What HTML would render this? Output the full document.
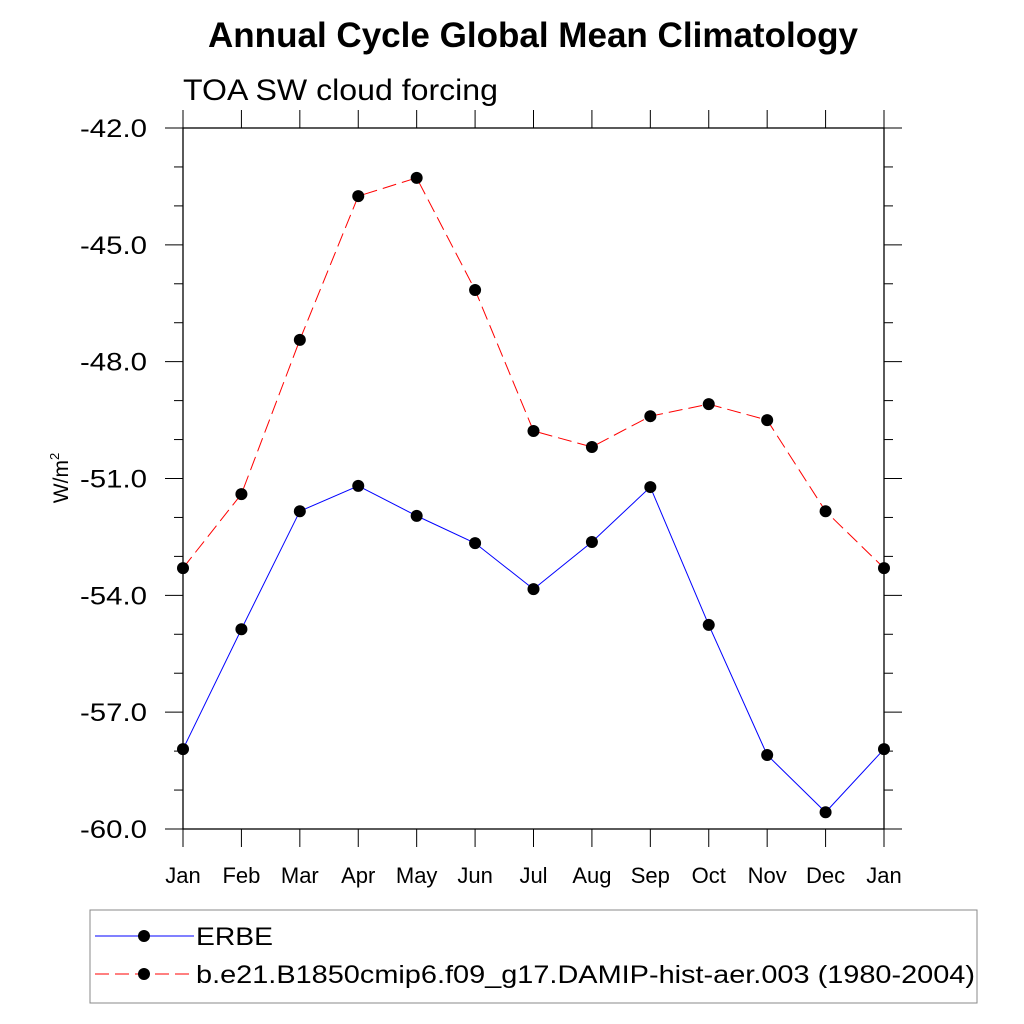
<!DOCTYPE html>
<html><head><meta charset="utf-8"><style>
body{margin:0;background:#fff;}
svg{display:block;font-family:"Liberation Sans",sans-serif;}
</style></head><body>
<svg id="chart" width="1024" height="1024">
<text x="208" y="47" textLength="650" lengthAdjust="spacingAndGlyphs" font-size="35" font-weight="bold">Annual Cycle Global Mean Climatology</text>
<text x="183" y="100" textLength="315" lengthAdjust="spacingAndGlyphs" font-size="30">TOA SW cloud forcing</text>
<text transform="translate(68,478) rotate(-90)" text-anchor="middle" font-size="21">W/m<tspan dy="-9" font-size="13">2</tspan></text>
<g id="axes"></g>
<g id="series"></g>
<rect x="90" y="910" width="887" height="93" fill="none" stroke="#888" stroke-width="1"/>
<g>
<line x1="95" y1="936" x2="194" y2="936" stroke="#0000ff" stroke-width="1"/>
<circle cx="144" cy="936" r="6" fill="#000"/>
<text x="196" y="945" textLength="77" lengthAdjust="spacingAndGlyphs" font-size="25">ERBE</text>
</g>
<g>
<line x1="95" y1="974" x2="194" y2="974" stroke="#ff0000" stroke-width="1" stroke-dasharray="14,6"/>
<circle cx="144" cy="974" r="6" fill="#000"/>
<text x="196" y="983" textLength="779" lengthAdjust="spacingAndGlyphs" font-size="25">b.e21.B1850cmip6.f09_g17.DAMIP-hist-aer.003 (1980-2004)</text>
</g>
</svg>
<script>
const months = ["Jan","Feb","Mar","Apr","May","Jun","Jul","Aug","Sep","Oct","Nov","Dec","Jan"];
const erbe = [-57.95,-54.87,-51.84,-51.19,-51.96,-52.66,-53.84,-52.63,-51.22,-54.76,-58.10,-59.57,-57.95];
const model = [-53.30,-51.40,-47.44,-43.75,-43.28,-46.16,-49.78,-50.19,-49.40,-49.09,-49.50,-51.84,-53.30];
const yTicks = [-42,-45,-48,-51,-54,-57,-60];
const yTickLabels = ["-42.0","-45.0","-48.0","-51.0","-54.0","-57.0","-60.0"];

const L=183,R=884,T=128,B=829,yMax=-42,yMin=-60;
const xs=i=>L+(R-L)*i/(months.length-1);
const ys=v=>T+(yMax-v)/(yMax-yMin)*(B-T);
const NS="http://www.w3.org/2000/svg";
function mk(tag,attrs,parent){const e=document.createElementNS(NS,tag);for(const k in attrs)e.setAttribute(k,attrs[k]);parent.appendChild(e);return e;}
const ax=document.getElementById('axes');
const frame=mk('rect',{x:L,y:T,width:R-L,height:B-T,fill:'none',stroke:'#000','stroke-width':1.3},ax);


for(let v=yMax;v>=yMin;v--){
  const major=yTicks.includes(v);const len=major?18:9;const y=ys(v);
  mk('line',{x1:L-len,y1:y,x2:L,y2:y,stroke:'#000','stroke-width':1},ax);
  mk('line',{x1:R,y1:y,x2:R+len,y2:y,stroke:'#000','stroke-width':1},ax);
}
yTicks.forEach((v,i)=>{
  const t=mk('text',{x:80,y:ys(v)+9,'font-size':25,textLength:67,lengthAdjust:'spacingAndGlyphs'},ax);
  t.textContent=yTickLabels[i];
  
  
});
months.forEach((m,i)=>{
  const x=xs(i);
  mk('line',{x1:x,y1:T-18,x2:x,y2:T,stroke:'#000','stroke-width':1},ax);
  mk('line',{x1:x,y1:B,x2:x,y2:B+18,stroke:'#000','stroke-width':1},ax);
  const t=mk('text',{x:x,y:883,'text-anchor':'middle','font-size':22},ax);
  t.textContent=m;
  
  
});
const sg=document.getElementById('series');
function series(data,color,dash,name){
  const g=mk('g',{},sg);
  
  
  const pts=data.map((v,i)=>xs(i)+','+ys(v)).join(' ');
  const a={points:pts,fill:'none',stroke:color,'stroke-width':1};
  if(dash)a['stroke-dasharray']=dash;
  mk('polyline',a,g);
  data.forEach((v,i)=>{
    const c=mk('circle',{cx:xs(i),cy:ys(v),r:6,fill:'#000'},g);
    
    
  });
}
series(erbe,'#0000ff',null,'series-erbe');
series(model,'#ff0000','14,6','series-model');
</script>
</body></html>
